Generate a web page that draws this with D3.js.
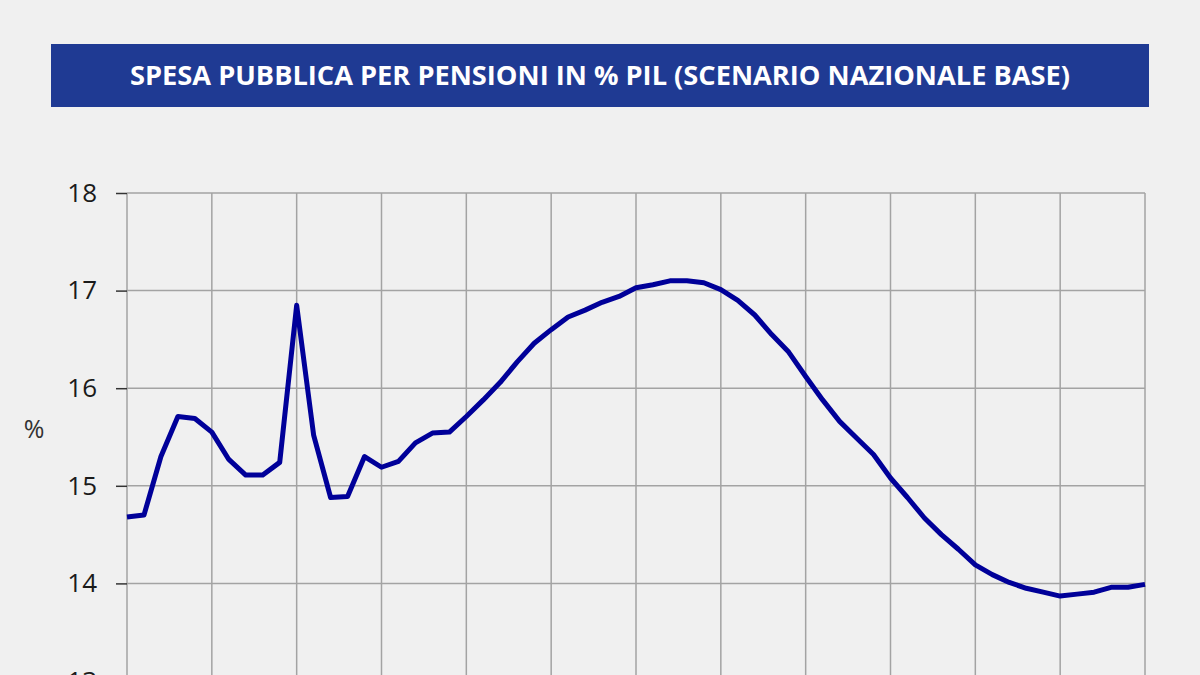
<!DOCTYPE html>
<html>
<head>
<meta http-equiv="Content-Type" content="text/html;charset=utf-8"/>
<style>
  body { margin: 0; background: #f0f0f0; }
  svg { display: block; }
</style>
</head>
<body>
  <svg id="chart"></svg>
  <script src="https://d3js.org/d3.v7.min.js"></script>
  <script>
  // Data: pension spending as % of GDP, yearly 2010-2070
  var years = d3.range(2010, 2071);
  var spesa = [
    14.68, 14.70, 15.30, 15.71, 15.69, 15.55, 15.27, 15.11, 15.11, 15.24,
    16.85, 15.52, 14.88, 14.89, 15.30, 15.19, 15.25, 15.44, 15.54, 15.55,
    15.71, 15.88, 16.06, 16.27, 16.46, 16.60, 16.73, 16.80, 16.88, 16.94,
    17.03, 17.06, 17.10, 17.10, 17.08, 17.01, 16.90, 16.75, 16.55, 16.37,
    16.12, 15.88, 15.66, 15.49, 15.32, 15.08, 14.88, 14.67, 14.50, 14.35,
    14.19, 14.09, 14.01, 13.95, 13.91, 13.87, 13.89, 13.91, 13.96, 13.96,
    13.99
  ];
  var yTicks = [13, 14, 15, 16, 17, 18];
  var xGridYears = d3.range(2010, 2071, 5);
  var titleText = 'SPESA PUBBLICA PER PENSIONI IN % PIL (SCENARIO NAZIONALE BASE)';

  var config = {
    width: 1200,
    height: 675,
    plot: { left: 127, right: 1145, top: 193, bottom: 681 },
    lineColor: '#000099',
    gridColor: '#a3a3a3',
    bannerColor: '#1f3a93',
    labelFont: '"Open Sans", sans-serif'
  };

  var svg = d3.select('#chart')
    .attr('width', config.width)
    .attr('height', config.height);

  svg.append('rect')
    .attr('width', config.width)
    .attr('height', config.height)
    .attr('fill', '#f0f0f0');

  // Title banner
  svg.append('rect')
    .attr('x', 51).attr('y', 44)
    .attr('width', 1098).attr('height', 63)
    .attr('fill', config.bannerColor);
  svg.append('text')
    .attr('x', 600).attr('y', 85)
    .attr('text-anchor', 'middle')
    .attr('fill', '#fff')
    .attr('font-family', '"Liberation Sans Narrow", "Open Sans", sans-serif')
    .attr('font-weight', 700)
    .attr('font-size', 26)
    .attr('textLength', 940)
    .attr('lengthAdjust', 'spacingAndGlyphs')
    .text(titleText);

  // Scales
  var x = d3.scaleLinear()
    .domain([2010, 2070])
    .range([config.plot.left, config.plot.right]);
  var y = d3.scaleLinear()
    .domain([13, 18])
    .range([config.plot.bottom, config.plot.top]);

  // Horizontal grid lines
  svg.append('g')
    .selectAll('line')
    .data(yTicks)
    .join('line')
    .attr('x1', config.plot.left).attr('x2', config.plot.right)
    .attr('y1', function(d) { return y(d); })
    .attr('y2', function(d) { return y(d); })
    .attr('stroke', config.gridColor)
    .attr('stroke-width', 1.5);

  // Vertical grid lines
  svg.append('g')
    .selectAll('line')
    .data(xGridYears)
    .join('line')
    .attr('x1', function(d) { return x(d); })
    .attr('x2', function(d) { return x(d); })
    .attr('y1', config.plot.top).attr('y2', config.plot.bottom)
    .attr('stroke', config.gridColor)
    .attr('stroke-width', 1.5);

  // Left axis with small outside ticks
  var yAxis = svg.append('g')
    .attr('transform', 'translate(' + config.plot.left + ',0)')
    .call(d3.axisLeft(y).tickValues(yTicks).tickFormat(d3.format('d')).tickSize(11).tickPadding(19));
  yAxis.select('.domain').remove();
  yAxis.selectAll('.tick line').attr('stroke', '#333').attr('stroke-width', 1.5);
  yAxis.selectAll('.tick text')
    .attr('font-family', config.labelFont)
    .attr('font-size', 26)
    .attr('fill', '#1a1a1a');

  svg.append('text')
    .attr('x', 34).attr('y', 438)
    .attr('text-anchor', 'middle')
    .attr('font-family', config.labelFont)
    .attr('font-size', 25)
    .attr('fill', '#333')
    .text('%');

  // The series
  var line = d3.line()
    .x(function(d, i) { return x(years[i]); })
    .y(function(d) { return y(d); });

  svg.append('path')
    .datum(spesa)
    .attr('d', line)
    .attr('fill', 'none')
    .attr('stroke', config.lineColor)
    .attr('stroke-width', 5)
    .attr('stroke-linejoin', 'round');
  </script>
</body>
</html>
